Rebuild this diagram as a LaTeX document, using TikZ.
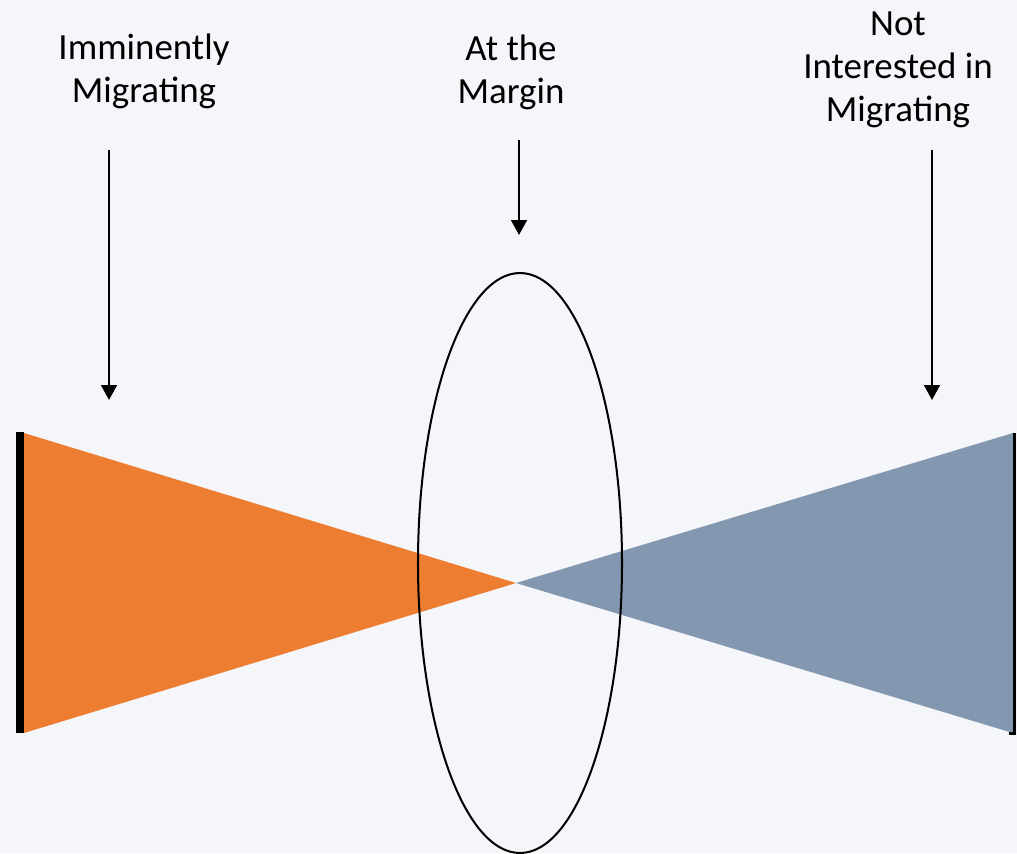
\documentclass[tikz,border=0pt]{standalone}
\usepackage{fontspec}
\setmainfont{Carlito}
\usepackage{tikz}
\usetikzlibrary{arrows.meta}
\definecolor{PageBg}{HTML}{F5F6FA}
\definecolor{OrangeFan}{HTML}{ED7D31}
\definecolor{SlateFan}{HTML}{8497B0}
\tikzstyle{heading}=[align=center,inner sep=0pt,font=\fontsize{21}{24.5}\selectfont]
\tikzstyle{pointer}=[draw=black,line width=1.15pt,-{Triangle[width=9pt,length=8.5pt]}]
\tikzset{fan/.style={draw=none,fill=#1}}

\begin{document}
\begin{tikzpicture}[x=0.02cm,y=-0.02cm]
    \fill [PageBg] (0,0) rectangle (1017,853);
    \useasboundingbox (0,0) rectangle (1017,853);

    % labels
    \node [heading] (imminent) at (144,71) {Imminently\\Migrating};
    \node [heading] (margin) at (511,72) {At the\\Margin};
    \node [heading] (notint) at (898,70) {Not\\Interested in\\Migrating};

    \coordinate (imminent top) at (109,150);
    \coordinate (imminent tip) at (109,400);
    \coordinate (margin top) at (519,140);
    \coordinate (margin tip) at (519,235);
    \coordinate (notint top) at (932,150);
    \coordinate (notint tip) at (932,400);

    \draw [pointer] (imminent top) -- (imminent tip);
    \draw [pointer] (margin top) -- (margin tip);
    \draw [pointer] (notint top) -- (notint tip);

    % the two fans
    \coordinate (apex) at (516,583);
    \coordinate (left top) at (24,433);
    \coordinate (left bottom) at (24,733);
    \coordinate (right top) at (1013,433);
    \coordinate (right bottom) at (1013,733);
    \fill [fan=OrangeFan] (left top) -- (apex) -- (left bottom) -- cycle;
    \fill [fan=SlateFan] (right top) -- (apex) -- (right bottom) -- cycle;
    \draw [line width=4.5pt] (20,432) -- (20,733);
    \draw [line width=1.7pt] (1014.5,433) -- (1014.5,733) -- (1009,733);

    \draw [line width=1.15pt] (520,563) ellipse (102 and 290);
\end{tikzpicture}
\end{document}
